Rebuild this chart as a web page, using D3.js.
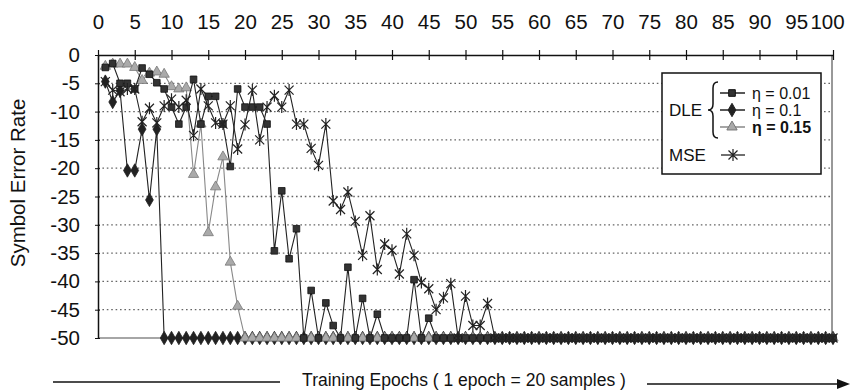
<!DOCTYPE html>
<html><head><meta charset="utf-8">
<script src="https://cdn.jsdelivr.net/npm/d3@7"></script>
<style>
body{margin:0;background:#fff}
text{font-family:"Liberation Sans",Arial,Helvetica,sans-serif;fill:#111}
</style>
</head><body>
<svg id="c" width="851" height="390"></svg>
<script>
// ---- data ----
const epochs = d3.range(1, 101);
const xTicks = [0,5,10,15,20,25,30,35,40,45,50,55,60,65,70,75,80,85,90,95,100];
const yTicks = [0,-5,-10,-15,-20,-25,-30,-35,-40,-45,-50];

const dle001 = [
 -2.2,-1.5,-5,-5,-6,-2.3,-3.4,-4.9,-6,-9.2,
 -12.2,-9.2,-4.3,-12.2,-7.3,-7.3,-12.2,-19.7,-6,-9.2,
 -9.2,-9.2,-12.2,-34.6,-24,-36,-30.7,-50,-41.6,-50,
 -43.8,-47.8,-50,-37.5,-50,-43,-50,-45.8,-50,-50,
 -50,-50,-39.7,-50,-46.5,-50,-50,-50,-50,-50,
 -50,-50,-50,-50,-50,-50,-50,-50,-50,-50,
 -50,-50,-50,-50,-50,-50,-50,-50,-50,-50,
 -50,-50,-50,-50,-50,-50,-50,-50,-50,-50,
 -50,-50,-50,-50,-50,-50,-50,-50,-50,-50,
 -50,-50,-50,-50,-50,-50,-50,-50,-50,-50];

const dle01 = [
 -4.7,-8.3,-6.3,-20.4,-20.4,-13.1,-25.6,-13.1,-50,-50,
 -50,-50,-50,-50,-50,-50,-50,-50,-50,-50,
 -50,-50,-50,-50,-50,-50,-50,-50,-50,-50,
 -50,-50,-50,-50,-50,-50,-50,-50,-50,-50,
 -50,-50,-50,-50,-50,-50,-50,-50,-50,-50,
 -50,-50,-50,-50,-50,-50,-50,-50,-50,-50,
 -50,-50,-50,-50,-50,-50,-50,-50,-50,-50,
 -50,-50,-50,-50,-50,-50,-50,-50,-50,-50,
 -50,-50,-50,-50,-50,-50,-50,-50,-50,-50,
 -50,-50,-50,-50,-50,-50,-50,-50,-50,-50];

const dle015 = [
 -2,-1.6,-1.6,-1.6,-2.2,-4.5,-3.2,-3,-3.4,-5.6,
 -6,-5.8,-21.1,-12.2,-31.4,-23.3,-18,-36.6,-44.4,-50,
 -50,-50,-50,-50,-50,-50,-50,-50,-50,-50,
 -50,-50,-50,-50,-50,-50,-50,-50,-50,-50,
 -50,-50,-50,-50,-50,-50,-50,-50,-50,-50,
 -50,-50,-50,-50,-50,-50,-50,-50,-50,-50,
 -50,-50,-50,-50,-50,-50,-50,-50,-50,-50,
 -50,-50,-50,-50,-50,-50,-50,-50,-50,-50,
 -50,-50,-50,-50,-50,-50,-50,-50,-50,-50,
 -50,-50,-50,-50,-50,-50,-50,-50,-50,-50];

const mse = [
 -4.7,-6.2,-6.5,-6,-6,-11.8,-9.4,-12,-9,-7.8,
 -9.2,-8,-14.2,-6,-9,-12,-12.2,-9,-16.6,-12.3,
 -6.2,-15,-9.2,-7.2,-9.2,-6.2,-12.2,-12.2,-16.5,-19.5,
 -12.2,-25.8,-27.3,-24.2,-29.4,-35.4,-28.4,-37.9,-33.4,-34.5,
 -38.7,-31.6,-35.4,-40.2,-41.3,-45,-42.9,-40.4,-50,-42.6,
 -47.8,-47.8,-43.9,-50,-50,-50,-50,-50,-50,-50,
 -50,-50,-50,-50,-50,-50,-50,-50,-50,-50,
 -50,-50,-50,-50,-50,-50,-50,-50,-50,-50,
 -50,-50,-50,-50,-50,-50,-50,-50,-50,-50,
 -50,-50,-50,-50,-50,-50,-50,-50,-50,-50];

const legendLabels = ["η = 0.01", "η = 0.1", "η = 0.15"];

// ---- chart ----
const svg = d3.select("#c");
const x = d3.scaleLinear().domain([0, 100]).range([98, 833]);
const y = d3.scaleLinear().domain([0, -50]).range([55, 338]);

// gridlines
svg.append("g").selectAll("line").data(yTicks.filter(v => v < 0 && v > -50)).join("line")
  .attr("x1", x(0)).attr("x2", 832).attr("y1", d => y(d)).attr("y2", d => y(d))
  .attr("stroke", "#666").attr("stroke-width", 1.3).attr("stroke-dasharray", "1.6,2.8");
svg.append("line").attr("x1", x(0)).attr("x2", x(100)).attr("y1", y(-50)).attr("y2", y(-50))
  .attr("stroke", "#888").attr("stroke-width", 1.5);

// right border
svg.append("line").attr("x1", 832).attr("x2", 832).attr("y1", y(0)).attr("y2", y(-50))
  .attr("stroke", "#333").attr("stroke-width", 1);

// top axis
const gx = svg.append("g").attr("transform", `translate(0,${y(0)})`)
  .call(d3.axisTop(x).tickValues(xTicks).tickSize(5).tickSizeOuter(0).tickPadding(21).tickFormat(d => String(d)));
gx.select(".domain").attr("stroke", "#111").attr("stroke-width", 1.5);
gx.selectAll(".tick line").attr("y1", 5).attr("stroke", "#111").attr("stroke-width", 1.2);
gx.selectAll(".tick text").attr("font-size", 20.5).attr("font-family", "Liberation Sans, Arial, sans-serif").attr("fill", "#111");
gx.selectAll(".tick text").filter(d => d === 100).attr("dx", -6);

// left axis
const gy = svg.append("g").attr("transform", `translate(${x(0)},0)`)
  .call(d3.axisLeft(y).tickValues(yTicks).tickSize(3).tickSizeOuter(0).tickPadding(15).tickFormat(d => String(d)));
gy.select(".domain").attr("stroke", "#111").attr("stroke-width", 1.5);
gy.selectAll(".tick line").attr("x1", 2).attr("stroke", "#111");
gy.selectAll(".tick text").attr("font-size", 20.5).attr("font-family", "Liberation Sans, Arial, sans-serif").attr("fill", "#111");

// axis title
svg.append("text").attr("transform", "translate(25,183) rotate(-90)")
  .attr("text-anchor", "middle").attr("font-size", 20.5).text("Symbol Error Rate");

// markers
const sym = {
  square: d3.symbol().type(d3.symbolSquare).size(44)(),
  diamond: d3.symbol().type(d3.symbolDiamond).size(52)(),
  triangle: d3.symbol().type(d3.symbolTriangle).size(46)(),
  star: "M-4.5,-4.5L4.5,4.5M-4.5,4.5L4.5,-4.5M0,-6L0,6"
};
const line = d3.line().x((d, i) => x(epochs[i])).y(d => y(d));

function series(data, shape, lineColor, fill, stroke) {
  const g = svg.append("g");
  g.append("path").attr("d", line(data)).attr("fill", "none")
    .attr("stroke", lineColor).attr("stroke-width", 1.1);
  g.selectAll("path.m").data(data).join("path").attr("class", "m")
    .attr("transform", (d, i) => `translate(${x(epochs[i])},${y(d)})`)
    .attr("d", sym[shape])
    .attr("fill", fill).attr("stroke", stroke).attr("stroke-width", shape === "star" ? 1.2 : 0.8);
}
series(dle01, "diamond", "#222", "#222", "#222");
series(dle015, "triangle", "#888", "#aaa", "#777");
series(dle001, "square", "#222", "#333", "#111");
series(mse, "star", "#222", "none", "#222");

// legend
const lg = svg.append("g");
lg.append("rect").attr("x", 662).attr("y", 73).attr("width", 159).attr("height", 101)
  .attr("fill", "#fff").attr("stroke", "#111").attr("stroke-width", 1.5);
lg.append("text").attr("x", 669).attr("y", 116).attr("font-size", 17).text("DLE");
lg.append("path").attr("d", "M718,82 Q713,82 713,88 L713,104 Q713,110 708,110 Q713,110 713,116 L713,132 Q713,138 718,138")
  .attr("fill", "none").attr("stroke", "#111").attr("stroke-width", 1.5);
const entries = [
  {shape: "square", lc: "#222", fill: "#333", stroke: "#111", yy: 93},
  {shape: "diamond", lc: "#222", fill: "#222", stroke: "#222", yy: 110},
  {shape: "triangle", lc: "#888", fill: "#aaa", stroke: "#777", yy: 127}
];
entries.forEach((e, i) => {
  lg.append("line").attr("x1", 720).attr("x2", 745).attr("y1", e.yy).attr("y2", e.yy)
    .attr("stroke", e.lc).attr("stroke-width", 1.5);
  lg.append("path").attr("transform", `translate(732,${e.yy})`).attr("d", sym[e.shape])
    .attr("fill", e.fill).attr("stroke", e.stroke);
  lg.append("text").attr("x", 752).attr("y", e.yy + 5.5).attr("font-size", 16)
    .attr("font-weight", i === 2 ? "bold" : "normal").text(legendLabels[i]);
});
lg.append("text").attr("x", 669).attr("y", 161).attr("font-size", 17).text("MSE");
lg.append("line").attr("x1", 721).attr("x2", 745).attr("y1", 155).attr("y2", 155)
  .attr("stroke", "#222").attr("stroke-width", 1.3);
lg.append("path").attr("transform", "translate(733,155)").attr("d", sym.star)
  .attr("fill", "none").attr("stroke", "#222").attr("stroke-width", 1.2);

// bottom caption with arrows
svg.append("line").attr("x1", 53).attr("x2", 280).attr("y1", 382).attr("y2", 382)
  .attr("stroke", "#111").attr("stroke-width", 1.5);
svg.append("line").attr("x1", 647).attr("x2", 842).attr("y1", 384).attr("y2", 384)
  .attr("stroke", "#111").attr("stroke-width", 1.5);
svg.append("path").attr("d", "M837,379 L850,384 L837,389 Z").attr("fill", "#111");
svg.append("text").attr("x", 464).attr("y", 386).attr("text-anchor", "middle")
  .attr("font-size", 17.5).text("Training Epochs ( 1 epoch = 20 samples )");
</script>
</body></html>
